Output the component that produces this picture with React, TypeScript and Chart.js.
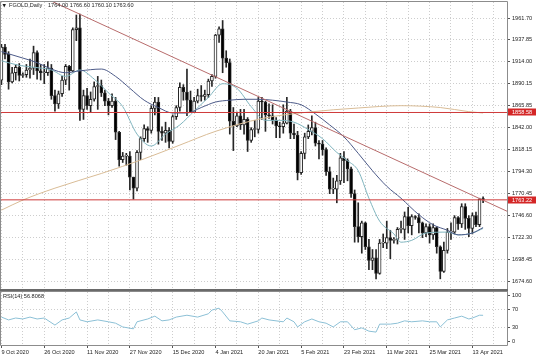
import React, { useEffect, useRef } from 'react';
import { Chart, registerables } from 'chart.js';

Chart.register(...registerables);

// ---------- data ----------
const xLabels = ['9 Oct 2020', '26 Oct 2020', '11 Nov 2020', '27 Nov 2020', '15 Dec 2020', '4 Jan 2021', '20 Jan 2021', '5 Feb 2021', '23 Feb 2021', '11 Mar 2021', '25 Mar 2021', '13 Apr 2021'];

const opens = [
  1894, 1930, 1922, 1892, 1902, 1908, 1899, 1900, 1905, 1907,
  1924, 1904, 1902, 1902, 1907, 1877, 1868, 1879, 1894, 1909,
  1904, 1949, 1951, 1862, 1877, 1866, 1873, 1887, 1888, 1880,
  1871, 1866, 1871, 1837, 1807, 1811, 1811, 1788, 1776, 1815,
  1830, 1841, 1839, 1863, 1870, 1838, 1836, 1839, 1827, 1854,
  1864, 1886, 1881, 1872, 1859, 1871, 1877, 1876, 1878, 1893,
  1898, 1943, 1950, 1918, 1913, 1849, 1844, 1855, 1845, 1851,
  1828, 1840, 1840, 1871, 1870, 1856, 1855, 1850, 1844, 1843,
  1847, 1860, 1836, 1834, 1793, 1814, 1832, 1838, 1842, 1825,
  1824, 1818, 1794, 1775, 1775, 1784, 1809, 1806, 1797, 1770,
  1734, 1723, 1738, 1712, 1697, 1700, 1683, 1716, 1716, 1722,
  1719, 1720, 1731, 1731, 1745, 1735, 1745, 1744, 1738, 1727,
  1734, 1725, 1733, 1712, 1685, 1708, 1728, 1728, 1744, 1737,
  1756, 1743, 1732, 1746, 1736, 1764.0,
];
const highs = [
  1933, 1933, 1925, 1908, 1911, 1912, 1902, 1911, 1917, 1931,
  1926, 1911, 1911, 1914, 1911, 1883, 1882, 1898, 1911, 1910,
  1951, 1965, 1966, 1883, 1885, 1881, 1892, 1898, 1894, 1883,
  1874, 1879, 1875, 1838, 1815, 1814, 1816, 1788, 1817, 1832,
  1845, 1843, 1866, 1875, 1875, 1843, 1848, 1842, 1856, 1866,
  1891, 1889, 1906, 1882, 1875, 1884, 1888, 1883, 1895, 1900,
  1944, 1952, 1959, 1926, 1917, 1864, 1859, 1862, 1862, 1853,
  1842, 1850, 1875, 1875, 1871, 1868, 1867, 1853, 1848, 1867,
  1875, 1862, 1846, 1838, 1816, 1836, 1845, 1855, 1848, 1828,
  1828, 1820, 1799, 1787, 1790, 1814, 1816, 1808, 1799, 1774,
  1760, 1740, 1739, 1720, 1709, 1709, 1720, 1726, 1740, 1730,
  1722, 1733, 1740, 1750, 1755, 1747, 1746, 1748, 1739, 1737,
  1737, 1737, 1734, 1713, 1717, 1732, 1738, 1746, 1745, 1759,
  1759, 1746, 1749, 1750, 1765, 1766.6,
];
const lows = [
  1889, 1917, 1884, 1891, 1894, 1893, 1897, 1897, 1896, 1900,
  1895, 1894, 1890, 1899, 1873, 1860, 1863, 1876, 1889, 1883,
  1903, 1937, 1850, 1851, 1862, 1859, 1871, 1862, 1876, 1866,
  1856, 1864, 1829, 1800, 1804, 1801, 1774, 1764, 1773, 1807,
  1827, 1826, 1836, 1856, 1824, 1828, 1826, 1820, 1825, 1851,
  1860, 1872, 1855, 1859, 1859, 1869, 1871, 1872, 1875, 1887,
  1896, 1935, 1902, 1908, 1835, 1817, 1843, 1840, 1835, 1816,
  1826, 1832, 1836, 1851, 1838, 1852, 1846, 1831, 1831, 1836,
  1846, 1830, 1830, 1785, 1791, 1808, 1830, 1834, 1822, 1808,
  1812, 1790, 1770, 1770, 1760, 1780, 1782, 1784, 1766, 1717,
  1717, 1705, 1709, 1687, 1687, 1677, 1682, 1711, 1710, 1699,
  1716, 1715, 1727, 1720, 1727, 1725, 1742, 1727, 1722, 1723,
  1716, 1720, 1705, 1677, 1684, 1705, 1720, 1726, 1731, 1733,
  1731, 1723, 1726, 1734, 1734, 1760.1,
];
const closes = [
  1930, 1922, 1892, 1902, 1908, 1899, 1900, 1905, 1907, 1924,
  1904, 1902, 1902, 1907, 1877, 1868, 1879, 1894, 1909, 1904,
  1949, 1951, 1862, 1877, 1866, 1873, 1887, 1888, 1880, 1871,
  1866, 1871, 1837, 1807, 1811, 1811, 1788, 1776, 1815, 1830,
  1841, 1839, 1863, 1870, 1838, 1836, 1839, 1827, 1854, 1864,
  1886, 1881, 1872, 1859, 1871, 1877, 1876, 1878, 1893, 1898,
  1943, 1950, 1918, 1913, 1849, 1844, 1855, 1845, 1851, 1828,
  1840, 1840, 1871, 1870, 1856, 1855, 1850, 1844, 1843, 1847,
  1860, 1836, 1834, 1793, 1814, 1832, 1838, 1842, 1825, 1824,
  1818, 1794, 1775, 1775, 1784, 1809, 1806, 1797, 1770, 1734,
  1723, 1738, 1712, 1697, 1700, 1683, 1716, 1716, 1722, 1719,
  1720, 1731, 1731, 1745, 1735, 1745, 1744, 1738, 1727, 1734,
  1725, 1733, 1712, 1685, 1708, 1728, 1728, 1744, 1737, 1756,
  1743, 1732, 1746, 1736, 1764, 1763.6,
];

const priceTicks = [1961.7, 1937.85, 1914.0, 1890.15, 1865.85, 1842.0, 1818.15, 1794.3, 1770.45, 1746.6, 1722.3, 1698.45, 1674.6];
const rsiTicks = [0, 30, 70, 100];
const hLevels = [1858.58, 1763.22];

const trendIdx = [14, 141.7];
const trendVal = [1980.2, 1750.8];

const slowIdx = [0, 6, 10, 14, 18, 22, 28, 32, 36, 40, 44, 48, 52, 56, 60, 64, 68, 72, 76, 80, 84, 88, 92, 96, 100, 104, 108, 112, 117, 121, 125, 128, 132, 135];
const slowVal = [1925, 1918, 1913, 1906, 1902, 1904, 1906, 1898, 1885, 1872, 1864, 1858, 1858, 1864, 1870, 1872, 1873, 1873, 1872, 1870, 1867, 1857, 1845, 1832, 1814, 1795, 1778, 1765, 1747, 1736, 1730, 1725, 1727, 1733];

const fastIdx = [0, 5, 9, 14, 18, 22, 26, 30, 34, 38, 42, 46, 50, 54, 58, 62, 66, 70, 74, 78, 82, 86, 90, 94, 97, 100, 103, 106, 110, 112, 115, 119, 125, 128, 132, 135];
const fastVal = [1915, 1910, 1908, 1905, 1898, 1905, 1895, 1880, 1865, 1835, 1822, 1835, 1845, 1860, 1875, 1890, 1885, 1865, 1850, 1850, 1848, 1840, 1830, 1815, 1806, 1795, 1765, 1740, 1726, 1717, 1719, 1727, 1728, 1725, 1727, 1732];

const ma200Idx = [0, 6, 15, 28, 40, 50, 60, 73, 86, 100, 112, 123, 131, 135];
const ma200Val = [1752, 1763, 1776, 1792, 1808, 1823, 1838, 1852, 1859, 1863.5, 1866, 1864, 1859.5, 1858];

const rsiIdx = [0, 2, 4, 6, 8, 10, 12, 15, 17, 19, 21, 22, 24, 27, 30, 32, 34, 37, 38, 41, 43, 45, 47, 49, 52, 55, 58, 59, 61, 62, 64, 67, 69, 72, 73, 75, 79, 80, 82, 83, 85, 87, 89, 91, 93, 95, 97, 99, 101, 103, 105, 106, 109, 111, 113, 115, 118, 120, 122, 123, 125, 127, 129, 131, 132, 134, 135];
const rsiVal = [53, 47, 51, 49, 53, 49, 51, 36, 47, 51, 64, 47, 43, 47, 43, 40, 32, 28, 43, 49, 55, 45, 47, 53, 57, 53, 60, 68, 72, 64, 45, 43, 38, 45, 51, 47, 43, 51, 43, 32, 43, 49, 43, 40, 32, 43, 43, 26, 30, 23, 21, 38, 38, 40, 45, 43, 45, 43, 43, 32, 47, 51, 55, 49, 51, 57, 56.8068];

// ---------- layout / style ----------
const X_MIN = -0.4;
const X_MAX = 141.7;
const Y_MIN = 1665.9;
const Y_MAX = 1979.2;
const AXIS_W = 29;
const FAM = '"Liberation Sans", Arial, sans-serif';
const FS = 5.6;
const GRID = '#cdcdcd';
const TEXT = '#1e1e1e';

const gridTicks = Array.from({ length: 24 }, (_, k) => k * 6);

const pts = (xs: number[], ys: number[]) => xs.map((x, i) => ({ x, y: ys[i] }));

function lineDs(data: any[], color: string, width = 1, order = 0) {
  return {
    type: 'line' as const,
    data,
    borderColor: color,
    borderWidth: width,
    pointRadius: 0,
    fill: false,
    cubicInterpolationMode: 'monotone' as const,
    order,
  };
}

const mainDecor = {
  id: 'mainDecor',
  afterDraw(chart: any) {
    const { ctx, chartArea: a, scales } = chart;
    ctx.save();
    ctx.strokeStyle = '#8c8c8c';
    ctx.lineWidth = 1;
    ctx.beginPath();
    ctx.moveTo(0.5, a.bottom);
    ctx.lineTo(0.5, a.top - 0.5);
    ctx.lineTo(a.right + 0.5, a.top - 0.5);
    ctx.lineTo(a.right + 0.5, a.bottom + 2);
    ctx.stroke();
    ctx.fillStyle = '#6a6a6a';
    ctx.fillRect(0, a.bottom, a.right + 1, 2);

    ctx.font = `${FS}px ${FAM}`;
    ctx.textBaseline = 'middle';
    ctx.textAlign = 'left';
    hLevels.forEach((v) => {
      const y = scales.y.getPixelForValue(v);
      ctx.fillStyle = '#d42626';
      ctx.fillRect(a.right + 1, Math.round(y) - 3.5, 28, 7);
      ctx.fillStyle = '#ffffff';
      ctx.fillText(v.toFixed(2), a.right + 5, y + 0.3);
    });

    const n = opens.length - 1;
    ctx.fillStyle = TEXT;
    ctx.font = `4.5px "DejaVu Sans", sans-serif`;
    ctx.fillText('\u25BC', 2.5, 5.5);
    ctx.font = `${FS}px ${FAM}`;
    ctx.fillText('FGOLD,Daily', 9, 5.5);
    ctx.fillText(`${opens[n].toFixed(2)} ${highs[n].toFixed(2)} ${lows[n].toFixed(2)} ${closes[n].toFixed(2)}`, 48, 5.5);
    ctx.restore();
  },
};

const rsiDecor = {
  id: 'rsiDecor',
  afterDraw(chart: any) {
    const { ctx, chartArea: a } = chart;
    ctx.save();
    ctx.strokeStyle = '#8c8c8c';
    ctx.lineWidth = 1;
    ctx.beginPath();
    ctx.moveTo(0.5, 0);
    ctx.lineTo(0.5, a.bottom + 0.5);
    ctx.lineTo(a.right + 0.5, a.bottom + 0.5);
    ctx.lineTo(a.right + 0.5, 0);
    ctx.stroke();
    ctx.fillStyle = '#8a8a8a';
    ctx.fillRect(0, 0, a.right + 1, 1);
    ctx.fillStyle = TEXT;
    ctx.font = `${FS}px ${FAM}`;
    ctx.textBaseline = 'middle';
    ctx.textAlign = 'left';
    ctx.fillText(`RSI(14) ${rsiVal[rsiVal.length - 1].toFixed(4)}`, 3, 5);
    ctx.restore();
  },
};

function mainConfig(): any {
  const bodies = opens.map((o, i) => ({ x: i, y: [o, closes[i]] }));
  const wicks = lows.map((l, i) => ({ x: i, y: [l, highs[i]] }));
  return {
    type: 'bar',
    data: {
      datasets: [
        lineDs(pts([X_MIN, X_MAX], [hLevels[0], hLevels[0]]), '#cf3a3a', 1, 0),
        lineDs(pts([X_MIN, X_MAX], [hLevels[1], hLevels[1]]), '#cf3a3a', 1, 0),
        lineDs(pts(trendIdx, trendVal), '#b86c6c', 1, 0),
        lineDs(pts(ma200Idx, ma200Val), '#d9bc96', 1, 0),
        lineDs(pts(slowIdx, slowVal), '#4c5a88', 1, 0),
        lineDs(pts(fastIdx, fastVal), '#7fb4be', 1, 0),
        {
          type: 'bar',
          data: bodies,
          backgroundColor: opens.map((o, i) => (closes[i] >= o ? '#ffffff' : '#000000')),
          borderColor: '#262626',
          borderWidth: 1,
          borderSkipped: false,
          barThickness: 3,
          minBarLength: 1,
          grouped: false,
          order: 1,
        },
        {
          type: 'bar',
          data: wicks,
          backgroundColor: '#262626',
          borderWidth: 0,
          barThickness: 1,
          grouped: false,
          order: 2,
        },
      ],
    },
    options: {
      responsive: false,
      animation: false,
      events: [],
      layout: { padding: { top: 2, bottom: 2, left: 0, right: 0 } },
      plugins: { legend: { display: false }, tooltip: { enabled: false } },
      scales: {
        x: {
          type: 'linear',
          min: X_MIN,
          max: X_MAX,
          offset: false,
          afterBuildTicks: (s: any) => { s.ticks = gridTicks.map((v) => ({ value: v })); },
          afterFit: (s: any) => { s.height = 0; s.paddingLeft = 0; s.paddingRight = 0; },
          ticks: { display: false },
          grid: { color: GRID, drawTicks: false, offset: false, lineWidth: 1 },
          border: { display: false, dash: [1, 2] },
        },
        y: {
          type: 'linear',
          position: 'right',
          min: Y_MIN,
          max: Y_MAX,
          afterBuildTicks: (s: any) => { s.ticks = priceTicks.map((v) => ({ value: v })); },
          afterFit: (s: any) => { s.width = AXIS_W; s.paddingTop = 0; s.paddingBottom = 0; },
          ticks: {
            font: { family: FAM, size: FS },
            color: TEXT,
            padding: 2,
            autoSkip: false,
            callback: (v: any) => Number(v).toFixed(2),
          },
          grid: { color: GRID, tickColor: '#555555', tickLength: 3, tickBorderDash: [] },
          border: { display: false, dash: [1, 2] },
        },
      },
    },
    plugins: [mainDecor],
  };
}

function rsiConfig(): any {
  return {
    type: 'line',
    data: {
      datasets: [
        {
          data: pts(rsiIdx, rsiVal),
          borderColor: '#8cc0d6',
          borderWidth: 1,
          pointRadius: 0,
          fill: false,
          tension: 0,
        },
      ],
    },
    options: {
      responsive: false,
      animation: false,
      events: [],
      layout: { padding: { top: 1, bottom: 0, left: 0, right: 0 } },
      plugins: { legend: { display: false }, tooltip: { enabled: false } },
      scales: {
        x: {
          type: 'linear',
          min: X_MIN,
          max: X_MAX,
          offset: false,
          afterBuildTicks: (s: any) => { s.ticks = gridTicks.map((v) => ({ value: v })); },
          afterFit: (s: any) => { s.height = 12; s.paddingLeft = 0; s.paddingRight = 0; },
          ticks: {
            display: true,
            autoSkip: false,
            maxRotation: 0,
            minRotation: 0,
            align: 'start',
            padding: 1,
            font: { family: FAM, size: FS },
            color: TEXT,
            callback: (v: any) => {
              const n = Number(v);
              return n % 12 === 0 ? xLabels[n / 12] || '' : '';
            },
          },
          grid: {
            color: GRID,
            offset: false,
            tickLength: 3,
            tickBorderDash: [],
            tickColor: (c: any) => (c.tick && c.tick.value % 12 === 0 ? '#555555' : 'rgba(0,0,0,0)'),
          },
          border: { display: false, dash: [1, 2] },
        },
        y: {
          type: 'linear',
          position: 'right',
          min: -6.5,
          max: 106.5,
          afterBuildTicks: (s: any) => { s.ticks = rsiTicks.map((v) => ({ value: v })); },
          afterFit: (s: any) => { s.width = AXIS_W; s.paddingTop = 0; s.paddingBottom = 0; },
          ticks: {
            font: { family: FAM, size: FS },
            color: TEXT,
            padding: 2,
            autoSkip: false,
            callback: (v: any) => String(v),
          },
          grid: {
            color: (c: any) => (c.tick && (c.tick.value === 30 || c.tick.value === 70) ? GRID : 'rgba(0,0,0,0)'),
            tickColor: '#555555',
            tickLength: 3,
            tickBorderDash: [],
          },
          border: { display: false, dash: [1, 2] },
        },
      },
    },
    plugins: [rsiDecor],
  };
}

export default function App() {
  const mainRef = useRef<HTMLCanvasElement>(null);
  const rsiRef = useRef<HTMLCanvasElement>(null);

  useEffect(() => {
    const c1 = new Chart(mainRef.current as HTMLCanvasElement, mainConfig());
    const c2 = new Chart(rsiRef.current as HTMLCanvasElement, rsiConfig());
    return () => {
      c1.destroy();
      c2.destroy();
    };
  }, []);

  return (
    <div style={{ position: 'fixed', left: 0, top: 0, width: 536, height: 357, background: '#ffffff', overflow: 'hidden' }}>
      <canvas ref={mainRef} width={536} height={291} style={{ position: 'absolute', left: 0, top: 0, width: 536, height: 291 }} />
      <canvas ref={rsiRef} width={536} height={66} style={{ position: 'absolute', left: 0, top: 291, width: 536, height: 66 }} />
    </div>
  );
}
